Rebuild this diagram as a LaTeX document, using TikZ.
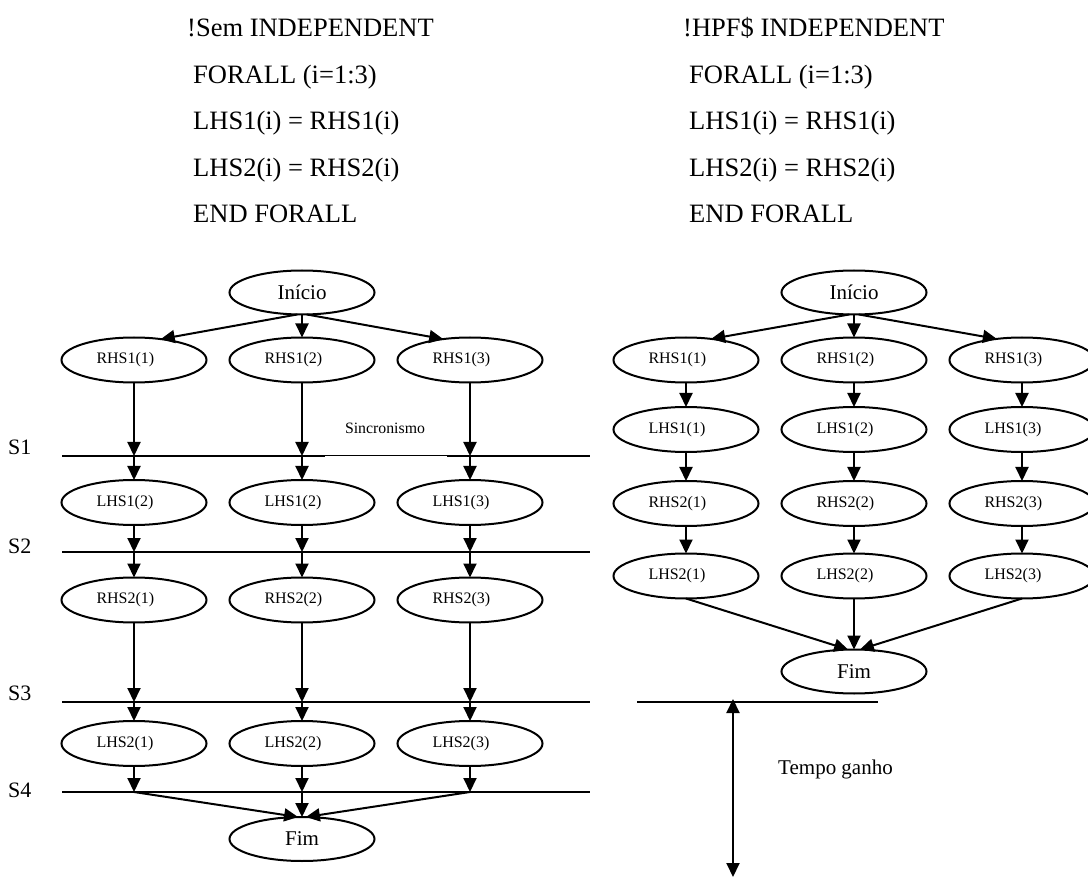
\documentclass[tikz,border=0pt]{standalone}
\usepackage{fontspec}
\setmainfont{Liberation Serif}
\usetikzlibrary{arrows.meta,shapes.geometric}

\begin{document}
\begin{tikzpicture}[x=1pt,y=-1pt,
  op/.style={ellipse,draw,line width=2pt,minimum width=145pt,minimum height=45pt,
    inner sep=0pt,outer sep=0pt,font=\fontsize{16}{18}\selectfont,text width=75pt,align=left},
  term/.style={ellipse,draw,line width=2pt,minimum width=145pt,minimum height=44pt,
    inner sep=0pt,outer sep=0pt,font=\fontsize{21}{24}\selectfont},
  flow/.style={line width=2pt,-{Triangle[length=14pt,width=13pt]}},
  span/.style={line width=2pt,{Triangle[length=14pt,width=13pt]}-{Triangle[length=14pt,width=13pt]}},
  sync/.style={line width=2pt},
  code/.style={anchor=base west,inner sep=0pt,font=\fontsize{26.5}{30}\selectfont},
  slabel/.style={anchor=base west,inner sep=0pt,font=\fontsize{22}{24}\selectfont},
  note/.style={anchor=base west,inner sep=0pt,font=\fontsize{21}{24}\selectfont}
]
\useasboundingbox (0,0) rectangle (1088,877);

% ---------- source listings ----------
\node[code] (a1) at (187,37)    {!Sem INDEPENDENT};
\node[code] (a2) at (193,83.5)  {FORALL (i=1:3)};
\node[code] (a3) at (193,130)   {LHS1(i) = RHS1(i)};
\node[code] (a4) at (193,176.5) {LHS2(i) = RHS2(i)};
\node[code] (a5) at (193,223)   {END FORALL};

\node[code] (b1) at (683,37)    {!HPF\$ INDEPENDENT};
\node[code] (b2) at (689,83.5)  {FORALL (i=1:3)};
\node[code] (b3) at (689,130)   {LHS1(i) = RHS1(i)};
\node[code] (b4) at (689,176.5) {LHS2(i) = RHS2(i)};
\node[code] (b5) at (689,223)   {END FORALL};

% ---------- left graph: synchronised execution ----------
\node[term] (Li) at (302,292.5) {Início};

\node[op] (Lr11) at (134,360) {RHS1(1)};
\node[op] (Lr12) at (302,360) {RHS1(2)};
\node[op] (Lr13) at (470,360) {RHS1(3)};

\node[op] (Ll11) at (134,502.5) {LHS1(2)};
\node[op] (Ll12) at (302,502.5) {LHS1(2)};
\node[op] (Ll13) at (470,502.5) {LHS1(3)};

\node[op] (Lr21) at (134,600) {RHS2(1)};
\node[op] (Lr22) at (302,600) {RHS2(2)};
\node[op] (Lr23) at (470,600) {RHS2(3)};

\node[op] (Ll21) at (134,743.5) {LHS2(1)};
\node[op] (Ll22) at (302,743.5) {LHS2(2)};
\node[op] (Ll23) at (470,743.5) {LHS2(3)};

\node[term] (Lf) at (302,839) {Fim};

% synchronisation barriers
\draw[sync] (62,456) -- (325,456);
\draw[line width=0.8pt] (325,455.5) -- (447,455.5);
\draw[sync] (447,456) -- (590,456);
\draw[sync] (62,552) -- (590,552);
\draw[sync] (62,702) -- (590,702);
\draw[sync] (62,792) -- (590,792);

\node[slabel] (S1) at (8,454) {S1};
\node[slabel] (S2) at (8,553) {S2};
\node[slabel] (S3) at (8,700) {S3};
\node[slabel] (S4) at (8,797) {S4};
\node[anchor=center,inner sep=0pt,font=\fontsize{15.8}{18}\selectfont] (sync) at (385,428) {Sincronismo};

\foreach \c/\x in {1/134,2/302,3/470}{
  \coordinate (p1\c) at (\x,456);
  \coordinate (p2\c) at (\x,552);
  \coordinate (p3\c) at (\x,702);
  \coordinate (p4\c) at (\x,792);
}

\draw[flow] (Li.258) -- (Lr11.38);
\draw[flow] (Li.south) -- (Lr12.north);
\draw[flow] (Li.282) -- (Lr13.142);

\foreach \c in {1,2,3}{
  \draw[flow] (Lr1\c.south) -- (p1\c);
  \draw[flow] (p1\c) -- (Ll1\c.north);
  \draw[flow] (Ll1\c.south) -- (p2\c);
  \draw[flow] (p2\c) -- (Lr2\c.north);
  \draw[flow] (Lr2\c.south) -- (p3\c);
  \draw[flow] (p3\c) -- (Ll2\c.north);
  \draw[flow] (Ll2\c.south) -- (p4\c);
}
\draw[flow] (p41) -- (Lf.100);
\draw[flow] (p42) -- (Lf.north);
\draw[flow] (p43) -- (Lf.80);

% ---------- right graph: independent execution ----------
\node[term] (Ri) at (854,292.5) {Início};

\node[op] (Rr11) at (686,360)  {RHS1(1)};
\node[op] (Rr12) at (854,360)  {RHS1(2)};
\node[op] (Rr13) at (1022,360) {RHS1(3)};

\node[op] (Rl11) at (686,429.5)  {LHS1(1)};
\node[op] (Rl12) at (854,429.5)  {LHS1(2)};
\node[op] (Rl13) at (1022,429.5) {LHS1(3)};

\node[op] (Rr21) at (686,503.5)  {RHS2(1)};
\node[op] (Rr22) at (854,503.5)  {RHS2(2)};
\node[op] (Rr23) at (1022,503.5) {RHS2(3)};

\node[op] (Rl21) at (686,576)  {LHS2(1)};
\node[op] (Rl22) at (854,576)  {LHS2(2)};
\node[op] (Rl23) at (1022,576) {LHS2(3)};

\node[term] (Rf) at (854,671.5) {Fim};

\draw[flow] (Ri.258) -- (Rr11.40);
\draw[flow] (Ri.south) -- (Rr12.north);
\draw[flow] (Ri.282) -- (Rr13.140);

\foreach \c in {1,2,3}{
  \draw[flow] (Rr1\c.south) -- (Rl1\c.north);
  \draw[flow] (Rl1\c.south) -- (Rr2\c.north);
  \draw[flow] (Rr2\c.south) -- (Rl2\c.north);
}
\draw[flow] (Rl21.south) -- (Rf.105);
\draw[flow] (Rl22.south) -- (Rf.north);
\draw[flow] (Rl23.south) -- (Rf.75);

% time saved
\draw[line width=1.6pt] (637,702) -- (878,702);
\coordinate (tgA) at (733,699);
\coordinate (tgB) at (733,877);
\draw[span] (tgA) -- (tgB);
\node[note] (gain) at (778,774) {Tempo ganho};

\end{tikzpicture}
\end{document}
